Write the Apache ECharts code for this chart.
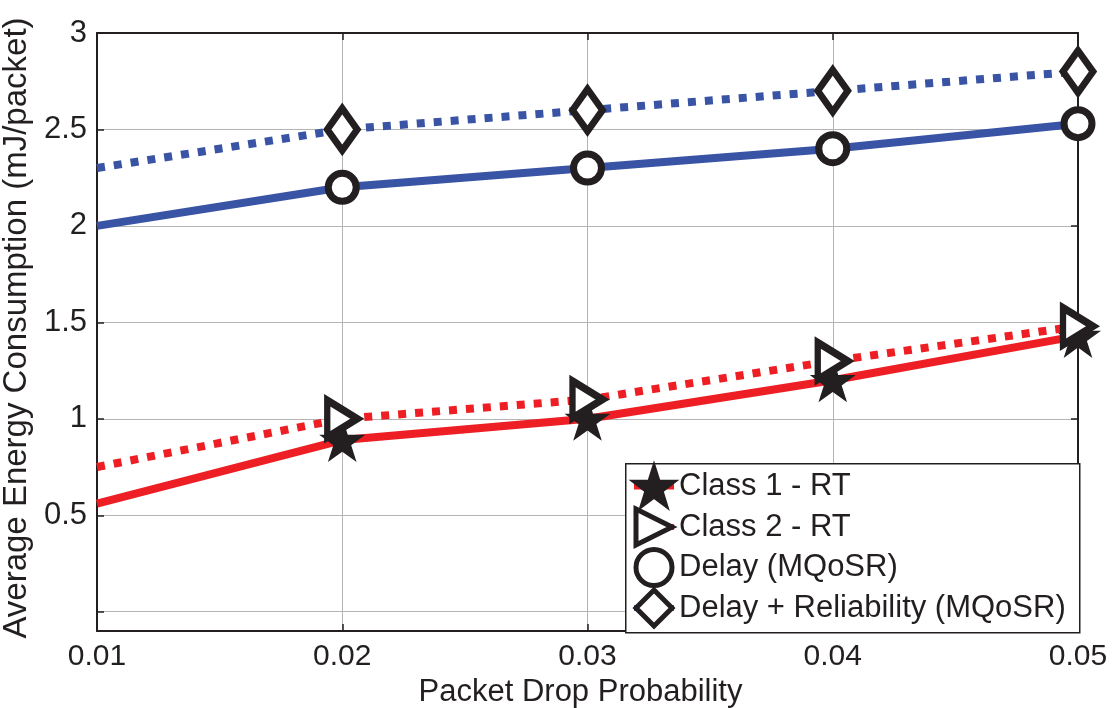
<!DOCTYPE html>
<html>
<head>
<meta charset="utf-8">
<script src="https://cdn.jsdelivr.net/npm/echarts@6/dist/echarts.min.js"></script>
<style>
html,body{margin:0;padding:0;background:#fff;}
#chart{width:1118px;height:708px;}
</style>
</head>
<body>
<div id="chart"></div>
<script>
// ---- data ----
const xValues = [0.01, 0.02, 0.03, 0.04, 0.05];
const class1RT = [0.56, 0.89, 1.00, 1.20, 1.43];
const class2RT = [0.75, 1.00, 1.10, 1.30, 1.48];
const delayMQoSR = [2.00, 2.20, 2.30, 2.40, 2.53];
const delayRelMQoSR = [2.30, 2.50, 2.60, 2.70, 2.80];
const seriesNames = ['Class 1 - RT', 'Class 2 - RT', 'Delay (MQoSR)', 'Delay + Reliability (MQoSR)'];
const yTickValues = [0, 0.5, 1, 1.5, 2, 2.5, 3];
const yLabelValues = [0.5, 1, 1.5, 2, 2.5, 3];
const xTitle = 'Packet Drop Probability';
const yTitle = 'Average Energy Consumption (mJ/packet)';

// ---- styling ----
const RED = '#ed1f24';
const BLUE = '#3953a5';
const INK = '#231f20';
const FONT = '"Liberation Sans", Arial, Helvetica, sans-serif';
const STAR = 'path://M50,0 L61.8,36 L99,36 L69,58 L80.5,94 L50,72 L19.5,94 L31,58 L1,36 L38.2,36 Z';
const TRI_RIGHT = 'path://M0,0 L10,6 L0,12 Z';

function pts(ys) {
  return xValues.map((x, i) => i === 0 ? { value: [x, ys[i]], symbol: 'none' } : [x, ys[i]]);
}

const chart = echarts.init(document.getElementById('chart'), null, { renderer: 'canvas' });

const axisLine = { show: true, onZero: false, lineStyle: { color: INK, width: 2 } };
const axisTick = { show: true, inside: true, length: 7, lineStyle: { color: INK, width: 1.5 } };

const option = {
  animation: false,
  backgroundColor: '#ffffff',
  grid: { left: 97, right: 40, top: 33, bottom: 77, containLabel: false, outerBoundsMode: 'none' },
  xAxis: [
    {
      type: 'value', min: 0.01, max: 0.05, interval: 0.01,
      axisLine: axisLine, axisTick: axisTick,
      axisLabel: { color: INK, fontSize: 30, fontFamily: FONT, margin: 11,
        formatter: v => v.toFixed(2) },
      splitLine: { show: true, lineStyle: { color: '#b4b4b4', width: 1 } },
      name: xTitle, nameLocation: 'middle', nameGap: 42,
      nameTextStyle: { color: INK, fontSize: 31, fontFamily: FONT, padding: [0, 14, 0, 0] }
    },
    {
      type: 'value', position: 'top', min: 0.01, max: 0.05, interval: 0.01,
      axisLine: axisLine, axisTick: axisTick, axisLabel: { show: false }, splitLine: { show: false }
    }
  ],
  yAxis: [
    {
      type: 'value', min: -0.1, max: 3,
      axisLine: axisLine,
      axisTick: Object.assign({}, axisTick, { customValues: yTickValues }),
      axisLabel: { color: INK, fontSize: 31, fontFamily: FONT, margin: 10,
        customValues: yLabelValues, formatter: v => String(v) },
      splitLine: { show: true, lineStyle: { color: '#b4b4b4', width: 1 } },
      name: yTitle, nameLocation: 'middle', nameGap: 56,
      nameTextStyle: { color: INK, fontSize: 33, fontFamily: FONT, padding: [0, 0, 0, 8] }
    },
    {
      type: 'value', position: 'right', min: -0.1, max: 3,
      axisLine: axisLine,
      axisTick: Object.assign({}, axisTick, { customValues: yTickValues }),
      axisLabel: { show: false }, splitLine: { show: false }
    }
  ],
  graphic: [
    {
      type: 'rect', z: 50, left: 625, top: 463,
      shape: { width: 454, height: 169 },
      style: { fill: '#ffffff', stroke: INK, lineWidth: 1.5 }
    }
  ],
  legend: {
    z: 60, orient: 'vertical', left: 631, top: 466, padding: 0,
    itemWidth: 40, itemHeight: 45, itemGap: -0.5,
    itemStyle: { borderWidth: 5 },
    lineStyle: { width: 6 },
    textStyle: { color: INK, fontSize: 31, fontFamily: FONT },
    data: seriesNames
  },
  series: [
    {
      name: seriesNames[0], type: 'line', data: pts(class1RT),
      symbol: STAR, symbolSize: 46, symbolKeepAspect: true,
      itemStyle: { color: INK, borderColor: INK, borderWidth: 0 },
      lineStyle: { color: RED, width: 8, type: 'solid' }, z: 3
    },
    {
      name: seriesNames[1], type: 'line', data: pts(class2RT),
      symbol: TRI_RIGHT, symbolSize: [30, 37],
      itemStyle: { color: '#ffffff', borderColor: INK, borderWidth: 7, borderJoin: 'miter' },
      lineStyle: { color: RED, width: 8, type: [8, 9], cap: 'butt' }, z: 4
    },
    {
      name: seriesNames[2], type: 'line', data: pts(delayMQoSR),
      symbol: 'circle', symbolSize: 28,
      itemStyle: { color: '#ffffff', borderColor: INK, borderWidth: 7 },
      lineStyle: { color: BLUE, width: 8, type: 'solid' }, z: 3
    },
    {
      name: seriesNames[3], type: 'line', data: pts(delayRelMQoSR),
      symbol: 'diamond', symbolSize: [30, 42],
      itemStyle: { color: '#ffffff', borderColor: INK, borderWidth: 7, borderJoin: 'miter' },
      lineStyle: { color: BLUE, width: 8, type: [8, 9], cap: 'butt' }, z: 4
    }
  ]
};

chart.setOption(option);
</script>
</body>
</html>
